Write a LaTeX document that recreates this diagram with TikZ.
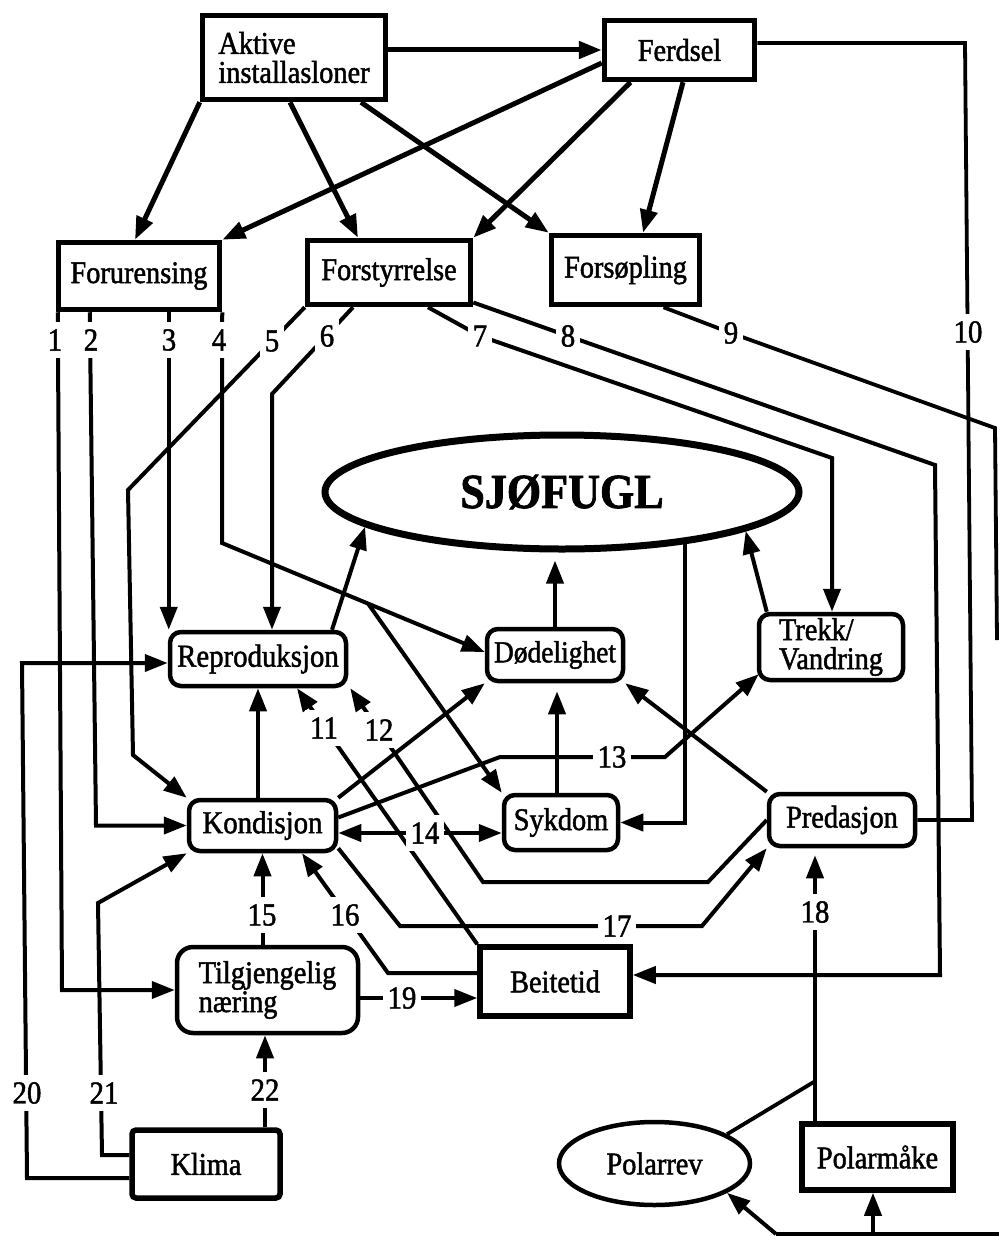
\documentclass[tikz,border=0pt]{standalone}
\usepackage{fontspec}
\setmainfont{Liberation Serif}[FakeStretch=0.9, FakeBold=1.5]
\usetikzlibrary{arrows.meta,calc,shapes.geometric}

\newcommand\boxfnt{\fontsize{31.5}{29}\selectfont}
\newcommand\numfnt{\fontsize{32}{32}\selectfont}

\begin{document}
\begin{tikzpicture}[x=1pt,y=-1pt,
  box/.style={draw, line width=5.5pt, inner sep=0pt, font=\boxfnt, align=center},
  rbox/.style={box, line width=4.5pt, rounded corners=11pt},
  tip/.tip={Triangle[length=23pt,width=17pt]},
  arr/.style={line width=4pt, -tip},
  arrt/.style={arr, line width=5pt},
  darr/.style={line width=4pt, tip-tip},
  ln/.style={line width=3.8pt},
  num/.style={fill=white, inner xsep=5pt, inner ysep=7pt, font=\numfnt},
]
\fill[white] (0,0) rectangle (999,1236);
\useasboundingbox (0,0) rectangle (999,1236);

% ---- boxes ----
\node[box, minimum width=183pt, minimum height=84pt, align=left] (akt) at (294,57.5) {Aktive\\installasloner};
\node[box, minimum width=150pt, minimum height=59pt] (fer) at (679.5,50) {Ferdsel};
\node[box, minimum width=161pt, minimum height=67pt] (foru) at (139,276) {Forurensing};
\node[box, minimum width=163pt, minimum height=64pt] (fors) at (389,272.5) {Forstyrrelse};
\node[box, minimum width=148pt, minimum height=69pt] (forp) at (625.5,270) {Forsøpling};
\node[draw, ellipse, line width=7pt, minimum width=474pt, minimum height=114pt, inner sep=0pt,
      font=\bfseries\fontsize{49}{49}\selectfont] (sjo) at (562,492) {SJØFUGL};

\node[rbox, minimum width=176pt, minimum height=54pt, font=\fontsize{32}{32}\selectfont] (rep) at (258,659) {Reproduksjon};
\node[rbox, minimum width=136pt, minimum height=52pt, font=\fontsize{30.5}{30.5}\selectfont] (dod) at (555,655) {Dødelighet};
\node[rbox, minimum width=144pt, minimum height=66pt, align=left] (trk) at (831,647) {Trekk/\\Vandring};
\node[rbox, minimum width=147pt, minimum height=51pt, font=\fontsize{32}{32}\selectfont] (kon) at (262.5,825.5) {Kondisjon};
\node[rbox, minimum width=114pt, minimum height=55pt] (syk) at (561,822.5) {Sykdom};
\node[rbox, minimum width=146pt, minimum height=52pt] (pre) at (842,820) {Predasjon};
\node[rbox, minimum width=181pt, minimum height=86pt, align=left, rounded corners=16pt] (til) at (267.5,990) {Tilgjengelig\\næring};
\node[box, minimum width=150pt, minimum height=69pt] (bei) at (555,981.5) {Beitetid};
\node[box, minimum width=148pt, minimum height=68pt, rounded corners=4pt] (kli) at (206,1164) {Klima};
\node[draw, ellipse, line width=4.5pt, minimum width=191pt, minimum height=83pt, inner sep=0pt, font=\boxfnt] (prv) at (654.5,1163.5) {Polarrev};
\node[box, minimum width=151pt, minimum height=66pt] (pmk) at (877.5,1157) {Polarmåke};

% ---- top level ----
\draw[arrt] (akt.east |- fer.west) -- (fer.west);
\draw[arrt] (akt.south west) -- ($(foru.north)+(-4,0)$);
\draw[arrt] ($(akt.south)+(-4,0)$) -- ($(fors.north)+(-31,0)$);
\draw[arrt] ($(akt.south)+(67,0)$) -- (forp.north west);
\draw[arrt] ($(fer.west)+(0,13)$) -- (foru.north east);
\draw[arrt] ($(fer.south)+(-49,0)$) -- (fors.north east);
\draw[arrt] ($(fer.south)+(3.5,0)$) -- ($(forp.north)+(17.5,0)$);

% ---- from Forurensing (1-4) ----
\draw[arr] ($(foru.south west)+(2,0)$) -- (62,990) -- (til.west);
\draw[arr] ($(foru.south west)+(34,0)$) -- (96,825.5) -- (kon.west);
\coordinate (s3) at ($(foru.south west)+(113,0)$);
\draw[arr] (s3) -- (s3 |- rep.north);
\coordinate (c4) at (222,543);
\coordinate (t4) at ($(dod.west)+(0,-3)$);
\draw[arr] (foru.south east) -- (c4) -- (t4);
\coordinate (b4) at ($(c4)!0.556!(t4)$);
\draw[arr] (b4) -- (syk.north west);

% ---- from Forstyrrelse (5-8) ----
\draw[arr] (fors.south west) -- (128,490) -- (133,755) -- (kon.north west);
\coordinate (c6) at (272,394);
\draw[arr] ($(fors.south)+(-36,0)$) -- (c6) -- (c6 |- rep.north);
\coordinate (c7) at (832,458);
\draw[arr] ($(fors.south)+(39,0)$) -- (480,336) -- (c7) -- (c7 |- trk.north);
\coordinate (c8) at (940,975);
\draw[arr] ($(fors.east)+(0,30)$) -- (568,336) -- (935,465) -- (c8) -- (c8 -| bei.east);

% ---- from Forsøpling (9) and Ferdsel (10) ----
\draw[ln] ($(forp.south)+(38,0)$) -- (731,333) -- (995,428) -- (997,640);
\draw[ln] ($(fer.east)+(0,-7)$) -- (965,43) -- (972,820) -- (pre.east);

% ---- around SJØFUGL ----
\draw[arr] ($(rep.north)+(74,0)$) -- (sjo.190);
\draw[arr, shorten >=8pt] (dod.north) -- (dod.north |- sjo.south);
\draw[arr] ($(trk.north west)+(10,0)$) -- (sjo.348);
\draw[arr] (sjo.337) -- (sjo.337 |- syk.east) -- (syk.east);
\coordinate (s1) at ($(syk.north)+(-4,0)$);
\draw[arr, shorten >=8pt] (s1) -- (s1 |- dod.south);
\coordinate (k1) at ($(kon.north)+(-4.5,0)$);
\draw[arr] (k1) -- (k1 |- rep.south);
\draw[arr] (kon.north east) -- (dod.south west);
\draw[arr] ($(kon.east)+(0,-8)$) -- (500,757) -- (665,757) -- ($(trk.south west)+(2,-8)$);
\coordinate (s14) at ($(kon.east)+(0,7.5)$);
\draw[darr] (s14) -- (s14 -| syk.west);
\draw[arr] (bei.north west) -- ($(rep.south)+(39,0)$);
\draw[arr] (pre.west) -- (708,882) -- (483,882) -- ($(rep.south east)+(2,0)$);
\coordinate (s16) at ($(bei.west)+(0,-8.5)$);
\draw[arr] (s16) -- (388,973) -- ($(kon.south)+(39.5,0)$);
\draw[arr] ($(kon.south east)+(0,-5)$) -- (400,926) -- (702,926) -- (pre.south west);
\draw[arr] (pre.north west) -- (dod.south east);

% ---- lower part ----
\coordinate (s15) at (til.north -| kon.south);
\draw[arr] (s15) -- (kon.south);
\coordinate (s19) at ($(til.east)+(0,8)$);
\draw[arr] (s19) -- (s19 -| bei.west);
\coordinate (s22) at ($(kli.north)+(59,0)$);
\draw[arr] (s22) -- (s22 |- til.south);
\draw[arr] ($(kli.west)+(0,-9)$) -- (102,1155) -- (98,903) -- (kon.south west);
\draw[arr] ($(kli.west)+(0,14)$) -- (27,1178) -- (22,663) -- ($(rep.west)+(0,4)$);

\coordinate (s18) at ($(pmk.north)+(-62.5,0)$);
\coordinate (j18) at ($(s18)+(0,-40)$);
\draw[arr, shorten >=7pt] (s18) -- (s18 |- pre.south);
\draw[ln] (prv.22) -- (j18);
\coordinate (bl) at (776,1234);
\coordinate (br) at (999,1234);
\coordinate (bm) at (873,1234);
\draw[ln] (bl) -- (br);
\draw[arr] (bl) -- (prv.338);
\draw[arr] (bm) -- (bm |- pmk.south);

% ---- numbers on the connectors ----
\node[num] at (55,340) {1};
\node[num] at (91,340) {2};
\node[num] at (169,340) {3};
\node[num] at (219,340) {4};
\node[num] at (272,341) {5};
\node[num] at (327,336) {6};
\node[num] at (480,336) {7};
\node[num] at (568,336) {8};
\node[num] at (731,333) {9};
\node[num] at (968,332) {10};
\node[num] at (324,728) {11};
\node[num] at (379,730) {12};
\node[num] at (612,757) {13};
\node[num] at (425,833) {14};
\node[num] at (262,915) {15};
\node[num] at (345,915) {16};
\node[num] at (617,926) {17};
\node[num] at (815,912) {18};
\node[num] at (402,998) {19};
\node[num] at (27,1093) {20};
\node[num] at (104,1093) {21};
\node[num] at (265,1090) {22};
\end{tikzpicture}
\end{document}
